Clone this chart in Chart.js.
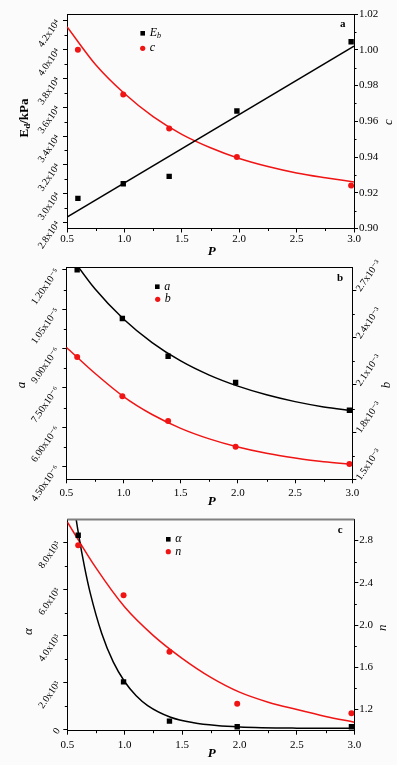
<!DOCTYPE html>
<html><head><meta charset="utf-8">
<script src="https://cdn.jsdelivr.net/npm/chart.js@4.4.1/dist/chart.umd.min.js"></script>
<style>
html,body{margin:0;padding:0;background:#fbfbfb;}
body{width:397px;height:765px;position:relative;overflow:hidden;}
canvas{position:absolute;left:0;}
</style></head><body>
<canvas id="ca" width="397" height="258" style="top:0px"></canvas>
<canvas id="cb" width="397" height="253" style="top:255px"></canvas>
<canvas id="cc" width="397" height="257" style="top:508px"></canvas>
<script>
// ---------- shared x data ----------
const P_POINTS = [0.595, 0.99, 1.39, 1.98, 2.975];
const P_TICKS = [0.5, 1.0, 1.5, 2.0, 2.5, 3.0];
const P_TICK_LABELS = ['0.5', '1.0', '1.5', '2.0', '2.5', '3.0'];
const P_MINOR = [0.75, 1.25, 1.75, 2.25, 2.75];
const FIT_P = [0.5, 0.75, 1.0, 1.25, 1.5, 1.75, 2.0, 2.25, 2.5, 2.75, 3.0];

// ---------- panel a ----------
const ED_VALUES = [29670, 30690, 31200, 35740, 40545];
const C_VALUES = [1.000, 0.975, 0.956, 0.940, 0.924];
const ED_FIT_P = [0.5, 3.0];
const ED_FIT = [28370, 40245];
const C_FIT = [1.0129, 0.9916, 0.9755, 0.9626, 0.9527, 0.9452, 0.9392, 0.9347, 0.9311, 0.9284, 0.9260];
const ED_TICKS = [28000, 30000, 32000, 34000, 36000, 38000, 40000, 42000];
const ED_TICK_LABELS = ['2.8x10⁴', '3.0x10⁴', '3.2x10⁴', '3.4x10⁴', '3.6x10⁴', '3.8x10⁴', '4.0x10⁴', '4.2x10⁴'];
const ED_MINOR = [29000, 31000, 33000, 35000, 37000, 39000, 41000];
const C_TICKS = [0.90, 0.92, 0.94, 0.96, 0.98, 1.00, 1.02];
const C_TICK_LABELS = ['0.90', '0.92', '0.94', '0.96', '0.98', '1.00', '1.02'];
const C_MINOR = [0.91, 0.93, 0.95, 0.97, 0.99, 1.01];

// ---------- panel b ----------
const A_VALUES = [12.0e-6, 10.15e-6, 8.71e-6, 7.71e-6, 6.65e-6];
const B_VALUES = [2.277e-3, 2.028e-3, 1.871e-3, 1.707e-3, 1.597e-3];
const A_FIT = [12.75e-6, 11.28e-6, 10.13e-6, 9.23e-6, 8.53e-6, 7.99e-6, 7.57e-6, 7.24e-6, 6.98e-6, 6.78e-6, 6.64e-6];
const B_FIT = [2.340e-3, 2.174e-3, 2.026e-3, 1.912e-3, 1.824e-3, 1.757e-3, 1.705e-3, 1.665e-3, 1.635e-3, 1.611e-3, 1.595e-3];
const A_TICKS = [4.5e-6, 6.0e-6, 7.5e-6, 9.0e-6, 10.5e-6, 12.0e-6];
const A_TICK_LABELS = ['4.50x10⁻⁶', '6.00x10⁻⁶', '7.50x10⁻⁶', '9.00x10⁻⁶', '1.05x10⁻⁵', '1.20x10⁻⁵'];
const A_MINOR = [5.25e-6, 6.75e-6, 8.25e-6, 9.75e-6, 11.25e-6];
const B_TICKS = [1.5e-3, 1.8e-3, 2.1e-3, 2.4e-3, 2.7e-3];
const B_TICK_LABELS = ['1.5x10⁻³', '1.8x10⁻³', '2.1x10⁻³', '2.4x10⁻³', '2.7x10⁻³'];
const B_MINOR = [1.65e-3, 1.95e-3, 2.25e-3, 2.55e-3];

// ---------- panel c ----------
const ALPHA_VALUES = [8315, 2027, 343, 99, 99];
const N_VALUES = [2.754, 2.281, 1.747, 1.255, 1.165];
const ALPHA_FIT_P = [0.5, 0.55, 0.6, 0.65, 0.7, 0.8, 0.9, 1.0, 1.1, 1.2, 1.4, 1.6, 1.8, 2.0, 2.5, 3.0];
const ALPHA_FIT = [11830, 9910, 8300, 6960, 5830, 4100, 2880, 2030, 1430, 1010, 510, 270, 150, 90, 40, 30];
const N_FIT = [2.975, 2.54, 2.17, 1.90, 1.685, 1.505, 1.365, 1.27, 1.20, 1.135, 1.08];
const ALPHA_TICKS = [0, 2000, 4000, 6000, 8000];
const ALPHA_TICK_LABELS = ['0', '2.0x10³', '4.0x10³', '6.0x10³', '8.0x10³'];
const ALPHA_MINOR = [1000, 3000, 5000, 7000];
const N_TICKS = [1.2, 1.6, 2.0, 2.4, 2.8];
const N_TICK_LABELS = ['1.2', '1.6', '2.0', '2.4', '2.8'];
const N_MINOR = [1.4, 1.8, 2.2, 2.6];

// ---------- helpers ----------
const FONT = '"Liberation Serif", "Times New Roman", "DejaVu Serif", serif';
const RED = '#f01414';
const BLACK = '#000000';

function xy(xs, ys) { return xs.map((x, i) => ({ x: x, y: ys[i] })); }

function drawRich(ctx, item) {
  ctx.save();
  ctx.translate(item.x, item.y);
  if (item.rot) ctx.rotate(item.rot);
  ctx.textBaseline = 'middle';
  ctx.textAlign = 'left';
  ctx.fillStyle = '#000';
  let total = 0;
  item.parts.forEach(p => { ctx.font = p.font; p.w = ctx.measureText(p.t).width; total += p.w; });
  let x = item.align === 'left' ? 0 : -total / 2;
  item.parts.forEach(p => { ctx.font = p.font; ctx.fillText(p.t, x, p.dy || 0); x += p.w; });
  ctx.restore();
}

function makeDecor(spec) {
  return {
    id: 'decor_' + spec.key,
    afterDraw(chart) {
      const ctx = chart.ctx, ca = chart.chartArea, off = spec.offset;
      ctx.save();
      // top frame
      ctx.strokeStyle = spec.topColor || '#000';
      ctx.lineWidth = spec.topWidth || 1;
      ctx.beginPath();
      ctx.moveTo(ca.left, Math.round(ca.top) + 0.5);
      ctx.lineTo(ca.right, Math.round(ca.top) + 0.5);
      ctx.stroke();
      // minor ticks
      ctx.strokeStyle = '#000';
      ctx.lineWidth = 1;
      Object.keys(spec.minor).forEach(id => {
        const s = chart.scales[id];
        spec.minor[id].forEach(v => {
          const p = Math.round(s.getPixelForValue(v)) + 0.5;
          ctx.beginPath();
          if (s.position === 'bottom') { ctx.moveTo(p, s.top); ctx.lineTo(p, s.top + 2.5); }
          else if (s.position === 'left') { ctx.moveTo(s.right, p); ctx.lineTo(s.right - 2.5, p); }
          else { ctx.moveTo(s.left, p); ctx.lineTo(s.left + 2.5, p); }
          ctx.stroke();
        });
      });
      // texts
      spec.texts.forEach(t => drawRich(ctx, Object.assign({}, t, { y: t.y - off })));
      // legend
      spec.legend.forEach(l => {
        const y = l.y - off;
        ctx.fillStyle = l.color;
        if (l.shape === 'rect') {
          ctx.fillRect(l.x - 2.3, y - 2.3, 4.6, 4.6);
        } else {
          ctx.beginPath(); ctx.arc(l.x, y, 2.6, 0, Math.PI * 2); ctx.fill();
        }
        drawRich(ctx, { x: l.x + 7, y: y, align: 'left', parts: l.parts });
      });
      ctx.restore();
    }
  };
}

function xScale(height, pad) {
  return {
    type: 'linear', position: 'bottom', min: 0.5, max: 3.0,
    afterBuildTicks: s => { s.ticks = P_TICKS.map(v => ({ value: v })); },
    afterFit: s => { s.height = height; },
    grid: { drawOnChartArea: false, drawTicks: true, tickLength: 4, color: '#000', tickColor: '#000' },
    border: { display: true, color: '#000', width: 1 },
    ticks: { autoSkip: false, maxRotation: 0, minRotation: 0, padding: pad, color: '#000',
      font: { family: FONT, size: 11 }, callback: (v, i) => P_TICK_LABELS[i] }
  };
}

function yScale(pos, min, max, ticks, labels, width, rot, pad) {
  return {
    type: 'linear', position: pos, min: min, max: max,
    afterBuildTicks: s => { s.ticks = ticks.map(v => ({ value: v })); },
    afterFit: s => { s.width = width; },
    grid: { drawOnChartArea: false, drawTicks: true, tickLength: 4, color: '#000', tickColor: '#000' },
    border: { display: true, color: '#000', width: 1 },
    ticks: { autoSkip: false, minRotation: rot, maxRotation: rot, padding: pad, color: '#000',
      font: { family: FONT, size: rot ? 10 : 11 }, callback: (v, i) => labels[i] }
  };
}

function pointSet(data, color, style, axis) {
  return { data: data, yAxisID: axis, showLine: false, pointStyle: style,
    pointRadius: style === 'rect' ? 3.8 : 3, pointHoverRadius: 3,
    backgroundColor: color, borderColor: color, borderWidth: 0 };
}
function fitSet(data, color, axis) {
  return { data: data, yAxisID: axis, showLine: true, pointRadius: 0, pointHoverRadius: 0,
    borderColor: color, backgroundColor: color, borderWidth: 1.5, fill: false,
    cubicInterpolationMode: 'monotone' };
}

function build(canvasId, padTop, datasets, scales, spec) {
  new Chart(document.getElementById(canvasId), {
    type: 'scatter',
    data: { datasets: datasets },
    options: {
      responsive: false, animation: false, devicePixelRatio: 1,
      layout: { padding: { top: padTop, left: 0, right: 0, bottom: 0 } },
      plugins: { legend: { display: false }, tooltip: { enabled: false } },
      scales: scales
    },
    plugins: [makeDecor(spec)]
  });
}

const ITAL = s => 'italic ' + s + 'px ' + FONT;
const BOLD = s => 'bold ' + s + 'px ' + FONT;

// ---------- Panel a ----------
build('ca', 14, [
  pointSet(xy(P_POINTS, ED_VALUES), BLACK, 'rect', 'y'),
  pointSet(xy(P_POINTS, C_VALUES), RED, 'circle', 'y1'),
  fitSet(xy(ED_FIT_P, ED_FIT), BLACK, 'y'),
  fitSet(xy(FIT_P, C_FIT), RED, 'y1')
], {
  x: xScale(29.5, 0),
  y: yScale('left', 27580, 42470, ED_TICKS, ED_TICK_LABELS, 67, 55, 5),
  y1: yScale('right', 0.90, 1.02, C_TICKS, C_TICK_LABELS, 43, 0, 1)
}, {
  key: 'a', offset: 0,
  minor: { x: P_MINOR, y: ED_MINOR, y1: C_MINOR },
  texts: [
    { x: 25, y: 118, rot: -Math.PI / 2, parts: [
      { t: 'E', font: BOLD(13) }, { t: 'd', font: BOLD(9), dy: 3 }, { t: '/kPa', font: BOLD(13) }] },
    { x: 389, y: 122, rot: -Math.PI / 2, parts: [{ t: 'c', font: ITAL(13) }] },
    { x: 211.7, y: 251.5, parts: [{ t: 'P', font: 'bold italic 13px ' + FONT }] },
    { x: 342.7, y: 24, parts: [{ t: 'a', font: BOLD(11) }] }
  ],
  legend: [
    { x: 142.7, y: 33.3, shape: 'rect', color: BLACK, parts: [{ t: 'E', font: ITAL(12) }, { t: 'b', font: ITAL(8), dy: 3 }] },
    { x: 142.7, y: 48.3, shape: 'circle', color: RED, parts: [{ t: 'c', font: ITAL(12) }] }
  ]
});

// ---------- Panel b ----------
build('cb', 12.3, [
  pointSet(xy(P_POINTS, A_VALUES), BLACK, 'rect', 'y'),
  pointSet(xy(P_POINTS, B_VALUES), RED, 'circle', 'y1'),
  fitSet(xy(FIT_P, A_FIT), BLACK, 'y'),
  fitSet(xy(FIT_P, B_FIT), RED, 'y1')
], {
  x: xScale(28.7, 3.4),
  y: yScale('left', 4.02e-6, 12.10e-6, A_TICKS, A_TICK_LABELS, 66.3, 55, 5),
  y1: yScale('right', 1.5e-3, 2.848e-3, B_TICKS, B_TICK_LABELS, 44.7, 55, 2)
}, {
  key: 'b', offset: 255,
  minor: { x: P_MINOR, y: A_MINOR, y1: B_MINOR },
  texts: [
    { x: 22, y: 385, rot: -Math.PI / 2, parts: [{ t: 'a', font: ITAL(13) }] },
    { x: 387, y: 385, rot: -Math.PI / 2, parts: [{ t: 'b', font: ITAL(13) }] },
    { x: 211.7, y: 501.5, parts: [{ t: 'P', font: 'bold italic 13px ' + FONT }] },
    { x: 340, y: 277.7, parts: [{ t: 'b', font: BOLD(11) }] }
  ],
  legend: [
    { x: 157.3, y: 286.7, shape: 'rect', color: BLACK, parts: [{ t: 'a', font: ITAL(12) }] },
    { x: 157.7, y: 299.3, shape: 'circle', color: RED, parts: [{ t: 'b', font: ITAL(12) }] }
  ]
});

// ---------- Panel c ----------
build('cc', 11.3, [
  pointSet(xy(P_POINTS, ALPHA_VALUES), BLACK, 'rect', 'y'),
  pointSet(xy(P_POINTS, N_VALUES), RED, 'circle', 'y1'),
  fitSet(xy(ALPHA_FIT_P, ALPHA_FIT), BLACK, 'y'),
  fitSet(xy(FIT_P, N_FIT), RED, 'y1')
], {
  x: xScale(34.3, 3.6),
  y: yScale('left', -70, 9000, ALPHA_TICKS, ALPHA_TICK_LABELS, 67.3, 55, 5),
  y1: yScale('right', 1.0, 3.0, N_TICKS, N_TICK_LABELS, 42.7, 0, 1)
}, {
  key: 'c', offset: 508, topColor: '#808080', topWidth: 2,
  minor: { x: P_MINOR, y: ALPHA_MINOR, y1: N_MINOR },
  texts: [
    { x: 28.3, y: 631.7, rot: -Math.PI / 2, parts: [{ t: 'α', font: ITAL(13) }] },
    { x: 383, y: 627.7, rot: -Math.PI / 2, parts: [{ t: 'n', font: ITAL(13) }] },
    { x: 211.7, y: 753.3, parts: [{ t: 'P', font: 'bold italic 13px ' + FONT }] },
    { x: 340.3, y: 530, parts: [{ t: 'c', font: BOLD(11) }] }
  ],
  legend: [
    { x: 168.3, y: 539.3, shape: 'rect', color: BLACK, parts: [{ t: 'α', font: ITAL(12) }] },
    { x: 168.3, y: 551.7, shape: 'circle', color: RED, parts: [{ t: 'n', font: ITAL(12) }] }
  ]
});
</script>
</body></html>
